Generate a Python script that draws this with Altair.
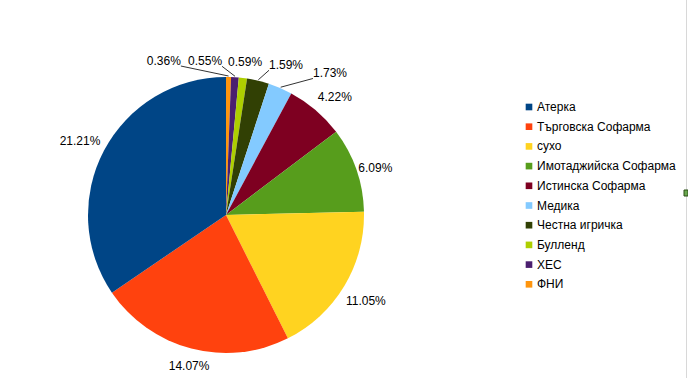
import math
import altair as alt
import numpy as np
import pandas as pd

# ---------------- data ----------------
categories = ["Атерка", "Търговска Софарма", "сухо", "Имотаджийска Софарма",
              "Истинска Софарма", "Медика", "Честна игричка", "Булленд", "ХЕС", "ФНИ"]
values = [21.21, 14.07, 11.05, 6.09, 4.22, 1.73, 1.59, 0.59, 0.55, 0.36]
colors = ["#004586", "#ff420e", "#ffd320", "#579d1c", "#7e0021",
          "#83caff", "#314004", "#aecf00", "#4b1f6f", "#ff950e"]

# ---------------- layout ----------------
W, H = 688, 378
CX, CY = 226, 215
R_PIE = 138
R_LAB = 155
FONT = "Liberation Sans"
# label nudges (dx, dy) in px, relative to the natural polar position
label_nudge = {
    "Атерка": (-9, -2), "Търговска Софарма": (2, 1), "сухо": (7, 6),
    "Имотаджийска Софарма": (3, 4), "Истинска Софарма": (8, 0), "Медика": (43, 1),
    "Честна игричка": (24, 1), "Булленд": (0, 1), "ХЕС": (-31, 1), "ФНИ": (-65, 1),
}
# leader line: which side of the label the line attaches to
leader_side = {"ФНИ": 1, "ХЕС": 1, "Честна игричка": -1, "Медика": -1}

df = pd.DataFrame({"cat": categories, "value": values})
df["order"] = np.arange(len(df))[::-1]
pie = df.sort_values("order").reset_index(drop=True)
total = float(sum(values))
pie["start"] = pie["value"].cumsum() - pie["value"]
pie["mid"] = pie["start"] + pie["value"] / 2
pie["label"] = pie["value"].map(lambda v: f"{v:.2f}%")

theta_scale = alt.Scale(domain=[0, total], range=[0, 2 * math.pi])

arcs = alt.Chart(pie).mark_arc(x=CX, y=CY, outerRadius=R_PIE, stroke=None).encode(
    theta=alt.Theta("value:Q", stack=True, scale=theta_scale),
    color=alt.Color(
        "cat:N",
        scale=alt.Scale(domain=categories, range=colors),
        legend=alt.Legend(
            orient="none", legendX=523, legendY=101, title=None,
            symbolType="square", symbolSize=44, symbolStrokeWidth=0,
            labelFont=FONT, labelFontSize=12, labelColor="#000000",
            labelOffset=2, rowPadding=7.7, padding=0,
        ),
    ),
    order=alt.Order("order:Q"),
)

layers = [arcs]
for c in categories:
    dx, dy = label_nudge[c]
    layers.append(
        alt.Chart(pie).transform_filter(alt.datum.cat == c).mark_text(
            x=CX, y=CY, radius=R_LAB, dx=dx, dy=dy, font=FONT, fontSize=12,
            color="#000000", align="center", baseline="middle",
        ).encode(
            theta=alt.Theta("mid:Q", stack=False, scale=theta_scale),
            text="label:N",
        )
    )

# leader lines computed from slice angles
rows = []
for _, r in pie.iterrows():
    if r["cat"] not in leader_side:
        continue
    a = r["mid"] / total * 2 * math.pi
    dx, dy = label_nudge[r["cat"]]
    lx = CX + R_LAB * math.sin(a) + dx
    ly = CY - R_LAB * math.cos(a) + dy
    ex = CX + (R_PIE + 1) * math.sin(a)
    ey = CY - (R_PIE + 1) * math.cos(a)
    side = leader_side[r["cat"]]
    rows.append({"x1": ex, "y1": ey, "x2": lx + side * 17, "y2": ly + 5})
leaders = pd.DataFrame(rows)
layers.append(
    alt.Chart(leaders).mark_rule(color="#333333", strokeWidth=1).encode(
        x=alt.X("x1:Q", scale=None), y=alt.Y("y1:Q", scale=None),
        x2="x2:Q", y2="y2:Q",
    )
)

# frame edge and small handle at the right
layers.append(
    alt.Chart(pd.DataFrame({"a": [0]})).mark_rule(color="#d8d8d8", strokeWidth=1).encode(
        x=alt.value(686.5), y=alt.value(0), y2=alt.value(H)
    )
)
layers.append(
    alt.Chart(pd.DataFrame({"a": [0]})).mark_rect(
        fill="#6aa84f", stroke="#2d5016", strokeWidth=1
    ).encode(x=alt.value(684), x2=alt.value(688), y=alt.value(190), y2=alt.value(196))
)

chart = alt.layer(*layers).properties(
    width=W, height=H, autosize=alt.AutoSizeParams(type="none"), padding=0,
    background="#ffffff",
).configure_view(stroke=None)

chart.save("out.html", embed_options={"renderer": "svg", "actions": False})
